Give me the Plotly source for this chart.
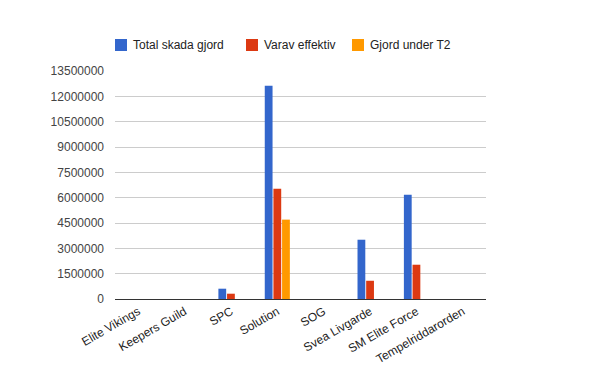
import plotly.graph_objects as go

categories = ["Elite Vikings", "Keepers Guild", "SPC", "Solution", "SOG",
              "Svea Livgarde", "SM Elite Force", "Tempelriddarorden"]
total_skada = [0, 0, 610000, 12630000, 0, 3510000, 6180000, 0]
varav_effektiv = [0, 0, 314000, 6530000, 0, 1080000, 2030000, 0]
gjord_under_t2 = [0, 0, 0, 4700000, 0, 0, 0, 0]
series_names = ["Total skada gjord", "Varav effektiv", "Gjord under T2"]
colors = ["#3366cc", "#dc3912", "#ff9900"]
y_ticks = [0, 1500000, 3000000, 4500000, 6000000, 7500000, 9000000,
           10500000, 12000000, 13500000]

L, R, T, B = 115, 114, 71, 72
W, H = 600, 371
pw = W - L - R
ph = H - T - B

fig = go.Figure()
for name, vals, c in zip(series_names, [total_skada, varav_effektiv, gjord_under_t2], colors):
    fig.add_trace(go.Bar(x=categories, y=vals, name=name, marker_color=c,
                         marker_line_width=0, showlegend=False))

# custom legend (Google-chart style)
leg_x = [115, 246, 352]
leg_y = 45
for name, c, px in zip(series_names, colors, leg_x):
    x0 = (px - L) / pw
    x1 = (px + 12 - L) / pw
    y0 = (H - B - (leg_y + 6)) / ph
    y1 = (H - B - (leg_y - 6)) / ph
    fig.add_shape(type="rect", xref="paper", yref="paper", x0=x0, x1=x1,
                  y0=y0, y1=y1, fillcolor=c, line_width=0)
    fig.add_annotation(xref="paper", yref="paper", x=(px + 16 - L) / pw,
                       y=(H - B - leg_y) / ph, text=name, showarrow=False,
                       xanchor="left", yanchor="middle",
                       font=dict(size=12, color="#222"))

fig.update_layout(
    width=W, height=H,
    margin=dict(l=L, r=R, t=T, b=B, autoexpand=False),
    paper_bgcolor="white", plot_bgcolor="white",
    font=dict(family="Liberation Sans, Arial, sans-serif", size=12, color="#222"),
    barmode="group", bargap=0.44, bargroupgap=0.1,
    xaxis=dict(tickangle=-30, showgrid=False, showline=True, linecolor="#333",
               linewidth=1, ticks="", automargin=False,
               tickfont=dict(size=12, color="#222")),
    yaxis=dict(range=[0, 13500000], tickvals=y_ticks,
               ticktext=[str(v) for v in y_ticks], automargin=False,
               showgrid=True, gridcolor="#cccccc", gridwidth=1,
               zeroline=False, ticks="", tickfont=dict(size=12, color="#444"),
               ticklabelstandoff=10),
)
fig.write_html("out.html", config={"displayModeBar": False},
               post_script="document.body.style.margin='0';")
